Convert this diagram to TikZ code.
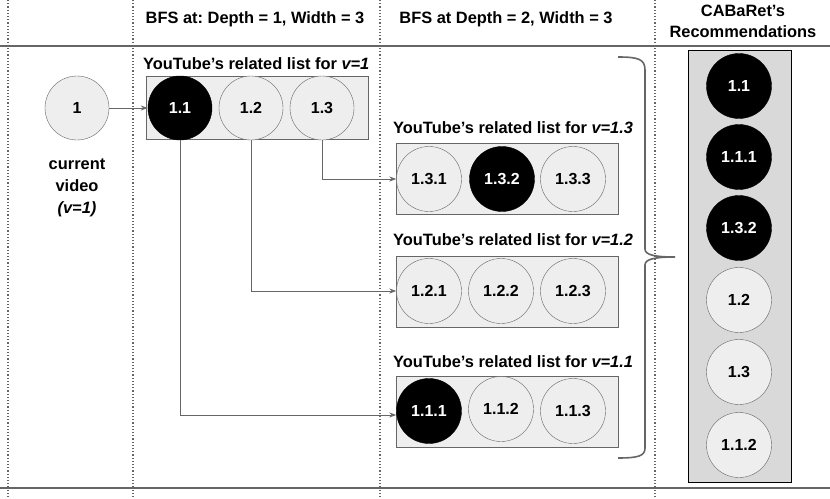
\documentclass[tikz,border=0pt]{standalone}
\usepackage{fontspec}
\setmainfont{Liberation Sans}
\usetikzlibrary{arrows.meta}
\frenchspacing
\definecolor{boxfill}{HTML}{EEEEEE}
\definecolor{recfill}{HTML}{D9D9D9}
\definecolor{linegray}{HTML}{666666}
\tikzset{
  txt/.style={font=\fontsize{16.4}{19}\selectfont\bfseries, inner sep=0pt},
  vid/.style={circle, draw=linegray, fill=boxfill, minimum size=64pt, inner sep=0pt,
              font=\fontsize{16}{18}\selectfont\bfseries},
  picked/.style={vid, draw=black, fill=black, text=white},
  listbox/.style={rectangle, draw=linegray, fill=boxfill, inner sep=0pt, minimum width=222pt},
  recbox/.style={rectangle, draw=black, fill=recfill, inner sep=0pt},
  arr/.style={draw=linegray, line width=1pt, -{Stealth[length=7pt,width=5pt]}},
  sep/.style={draw=linegray, line width=1.2pt, dotted},
  rule/.style={draw=linegray, line width=1.6pt},
  brace/.style={draw=linegray, line width=1.6pt}
}
\begin{document}
\begin{tikzpicture}[x=1pt,y=-1pt]
\useasboundingbox (0,0) rectangle (830,498);
% column separators
\foreach \x in {8,133,380,655} \draw[sep] (\x,0) -- (\x,498);
% rules
\draw[rule] (0,46) -- (830,46);
\draw[rule] (0,488) -- (830,488);
% headers
\node[txt] (h1) at (255,19) {BFS at: Depth = 1, Width = 3};
\node[txt] (h2) at (506,19) {BFS at Depth = 2, Width = 3};
\node[txt, align=center] (h3) at (743,21) {CABaRet's\\[2pt]Recommendations};
% current video
\node[vid] (c1) at (77,108) {1};
\node[txt, align=center] (cur) at (77,188) {current\\[3pt]video\\[3pt]\textit{(v=1)}};
% depth 1
\node[txt, anchor=west] (l1) at (143,64) {YouTube's related list for \textit{v=1}};
\node[listbox, minimum height=63pt] (b1) at (257,107.5) {};
\node[picked] (c11) at (180,108) {1.1};
\node[vid] (c12) at (251,108) {1.2};
\node[vid] (c13) at (322,108) {1.3};
% depth 2: v=1.3
\node[txt, anchor=west] (l13) at (393,128) {YouTube's related list for \textit{v=1.3}};
\node[listbox, minimum height=71pt] (b13) at (507,178.5) {};
\node[vid, minimum size=65pt] (c131) at (429,179) {1.3.1};
\node[picked, minimum size=65pt] (c132) at (502,179) {1.3.2};
\node[vid, minimum size=65pt] (c133) at (573,179) {1.3.3};
% depth 2: v=1.2
\node[txt, anchor=west] (l12) at (393,240) {YouTube's related list for \textit{v=1.2}};
\node[listbox, minimum height=71pt] (b12) at (507,291.5) {};
\node[vid, minimum size=65pt] (c121) at (429,291) {1.2.1};
\node[vid, minimum size=65pt] (c122) at (501,291) {1.2.2};
\node[vid, minimum size=65pt] (c123) at (573,291) {1.2.3};
% depth 2: v=1.1
\node[txt, anchor=west] (l11) at (393,362) {YouTube's related list for \textit{v=1.1}};
\node[listbox, minimum height=71pt] (b11) at (507,411.5) {};
\node[picked, minimum size=65pt] (c111) at (429,411) {1.1.1};
\node[vid, minimum size=65pt] (c112) at (501,409) {1.1.2};
\node[vid, minimum size=65pt] (c113) at (573,411) {1.1.3};
% brace
\coordinate (bt) at (618,57);
\coordinate (bm) at (675,257);
\coordinate (bb) at (618,458);
\draw[brace] (bt) .. controls (638,57) and (645,59) .. (645,70)
  -- (645,249) .. controls (645,255) and (655,257) .. (bm)
  .. controls (655,257) and (645,259) .. (645,265)
  -- (645,448) .. controls (645,456) and (638,458) .. (bb);
% recommendations
\node[recbox, minimum width=103pt, minimum height=432pt] (rb) at (739.5,266) {};
\node[picked, minimum size=65pt] (r1) at (739,86) {1.1};
\node[picked, minimum size=65pt] (r2) at (739,157) {1.1.1};
\node[picked, minimum size=65pt] (r3) at (739,228) {1.3.2};
\node[vid, minimum size=65pt] (r4) at (739,300) {1.2};
\node[vid, minimum size=65pt] (r5) at (739,372) {1.3};
\node[vid, minimum size=65pt] (r6) at (739,445) {1.1.2};
% connectors
\draw[arr] (c1) -- (c11);
\draw[arr] (c13.south) |- (c131.west);
\draw[arr] (c12.south) |- (c121.west);
\draw[arr] (c11.south) |- ([yshift=-4pt]c111.west);
\end{tikzpicture}
\end{document}
